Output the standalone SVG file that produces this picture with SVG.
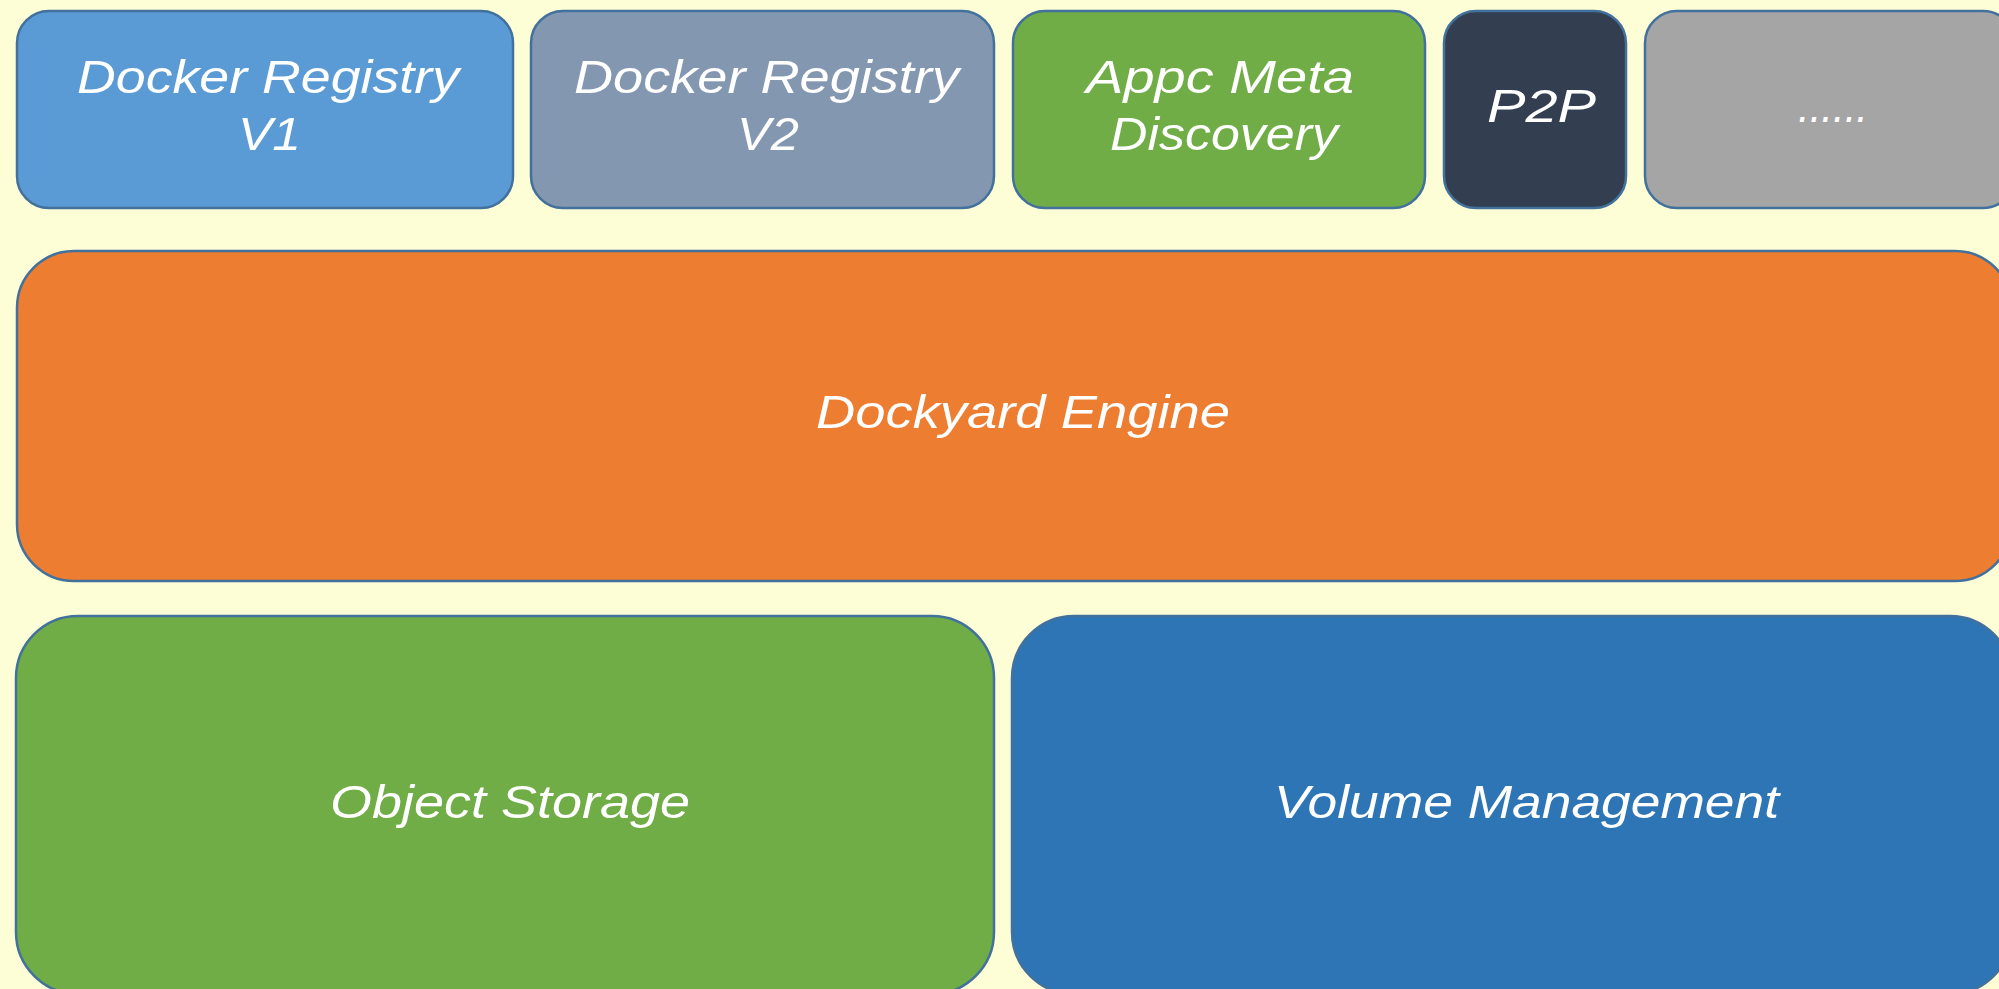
<svg xmlns="http://www.w3.org/2000/svg" width="1999" height="989" viewBox="0 0 1999 989">
<style>
.box{stroke:#41719C;stroke-width:2.5}
.t{font-family:"Liberation Sans","DejaVu Sans",sans-serif;font-style:italic;font-size:46px;fill:#FFFFFF}
</style>
<rect x="0" y="0" width="1999" height="989" fill="#FEFED6"/>
<g id="docker-v1">
<rect class="box" x="17" y="11" width="496" height="197" rx="32" fill="#5B9BD5"/>
<text class="t" x="77" y="93" textLength="382" lengthAdjust="spacingAndGlyphs">Docker Registry</text>
<text class="t" x="238" y="150" textLength="63" lengthAdjust="spacingAndGlyphs">V1</text>
</g>
<g id="docker-v2">
<rect class="box" x="531" y="11" width="463" height="197" rx="32" fill="#8497B0"/>
<text class="t" x="574" y="93" textLength="385" lengthAdjust="spacingAndGlyphs">Docker Registry</text>
<text class="t" x="737" y="150" textLength="62" lengthAdjust="spacingAndGlyphs">V2</text>
</g>
<g id="appc">
<rect class="box" x="1013" y="11" width="412" height="197" rx="32" fill="#70AD47"/>
<text class="t" x="1086" y="93" textLength="268" lengthAdjust="spacingAndGlyphs">Appc Meta</text>
<text class="t" x="1110" y="150" textLength="228" lengthAdjust="spacingAndGlyphs">Discovery</text>
</g>
<g id="p2p">
<rect class="box" x="1444" y="11" width="182" height="197" rx="32" fill="#333F50"/>
<text class="t" x="1487" y="122" textLength="109" lengthAdjust="spacingAndGlyphs">P2P</text>
</g>
<g id="more">
<rect class="box" x="1645" y="11" width="370" height="197" rx="32" fill="#A5A5A5"/>
<text class="t" x="1798" y="122" textLength="70" lengthAdjust="spacingAndGlyphs">......</text>
</g>
<g id="dockyard-engine">
<rect class="box" x="17" y="251" width="1995" height="330" rx="57" fill="#ED7D31"/>
<text class="t" x="816" y="428" textLength="414" lengthAdjust="spacingAndGlyphs">Dockyard Engine</text>
</g>
<g id="object-storage">
<rect class="box" x="16" y="616" width="978" height="378" rx="62" fill="#70AD47"/>
<text class="t" x="330" y="818" textLength="360" lengthAdjust="spacingAndGlyphs">Object Storage</text>
</g>
<g id="volume-management">
<rect class="box" x="1012" y="616" width="1000" height="378" rx="62" fill="#2E75B6"/>
<text class="t" x="1274" y="818" textLength="505" lengthAdjust="spacingAndGlyphs">Volume Management</text>
</g>
<g id="connectors"></g>
</svg>
